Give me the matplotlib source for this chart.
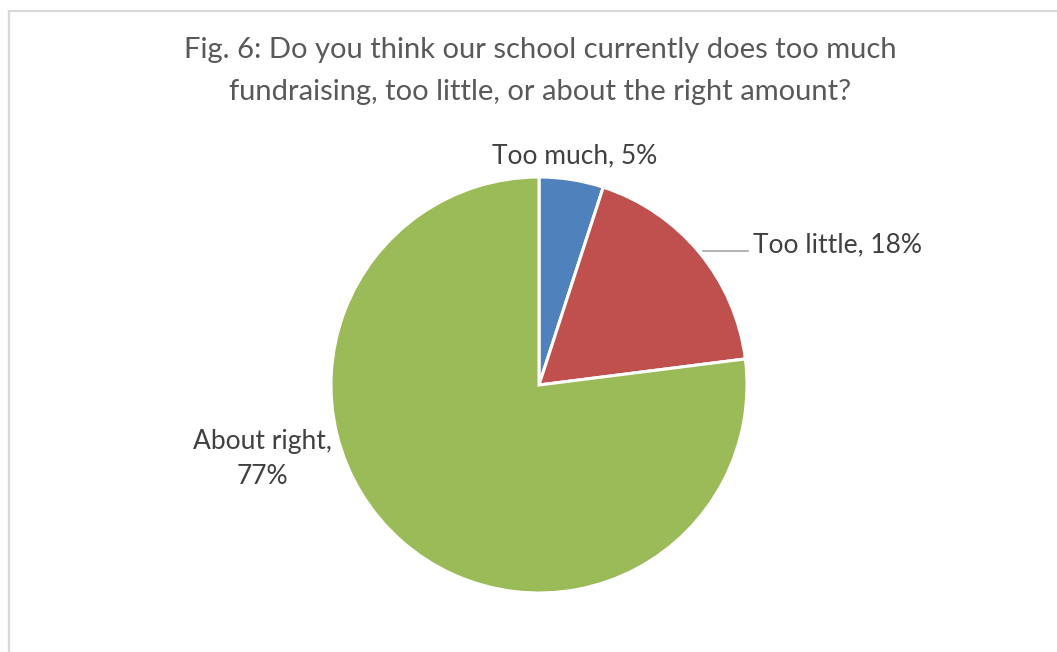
import matplotlib
matplotlib.use('Agg')
import matplotlib.pyplot as plt
from matplotlib.patches import Rectangle

TITLE = 'Fig. 6: Do you think our school currently does too much\nfundraising, too little, or about the right amount?'
CATEGORIES = ['Too much', 'Too little', 'About right']
PERCENTS = [5, 18, 77]
COLORS = ['#4F81BD', '#C0504D', '#9BBB59']

plt.rcParams['font.family'] = ['Lato', 'DejaVu Sans']

W, H = 1057, 652
fig = plt.figure(figsize=(W / 100, H / 100), dpi=100)
fig.patch.set_facecolor('white')

# chart area frame, runs off the right and bottom edges
fig.patches.append(Rectangle((9 / W, -0.05), 1.1, 1.05 - 11 / H, transform=fig.transFigure,
                             fill=False, edgecolor='#D9D9D9', linewidth=1.6))

fig.text(540 / W, 1 - 71 / H, TITLE, ha='center', va='center', fontsize=21,
         color='#595959', linespacing=1.73)

# pie placed by pixel centre and radius
cx, cy, r = 539, 385, 208
ax = fig.add_axes([(cx - r) / W, (H - cy - r) / H, 2 * r / W, 2 * r / H])
ax.pie(PERCENTS, colors=COLORS, startangle=90, counterclock=False, radius=1,
       wedgeprops=dict(edgecolor='white', linewidth=2.2))
ax.set_xlim(-1, 1)
ax.set_ylim(-1, 1)
ax.axis('off')

labels = [f'{c}, {p}%' for c, p in zip(CATEGORIES, PERCENTS)]
lab_kw = dict(fontsize=19, color='#404040', va='center')
fig.text(575 / W, 1 - 156 / H, labels[0], ha='center', **lab_kw)
fig.text(753 / W, 1 - 245 / H, labels[1], ha='left', **lab_kw)
fig.text(262 / W, 1 - 459 / H, labels[2].replace(', ', ',\n'), ha='center',
         linespacing=1.46, **lab_kw)

# leader line for the "Too little" label
fig.add_artist(plt.Line2D([703 / W, 748 / W], [1 - 251 / H, 1 - 251 / H],
                          transform=fig.transFigure, color='#A6A6A6', linewidth=1.2))

fig.savefig('out.png', dpi=100, facecolor='white')
